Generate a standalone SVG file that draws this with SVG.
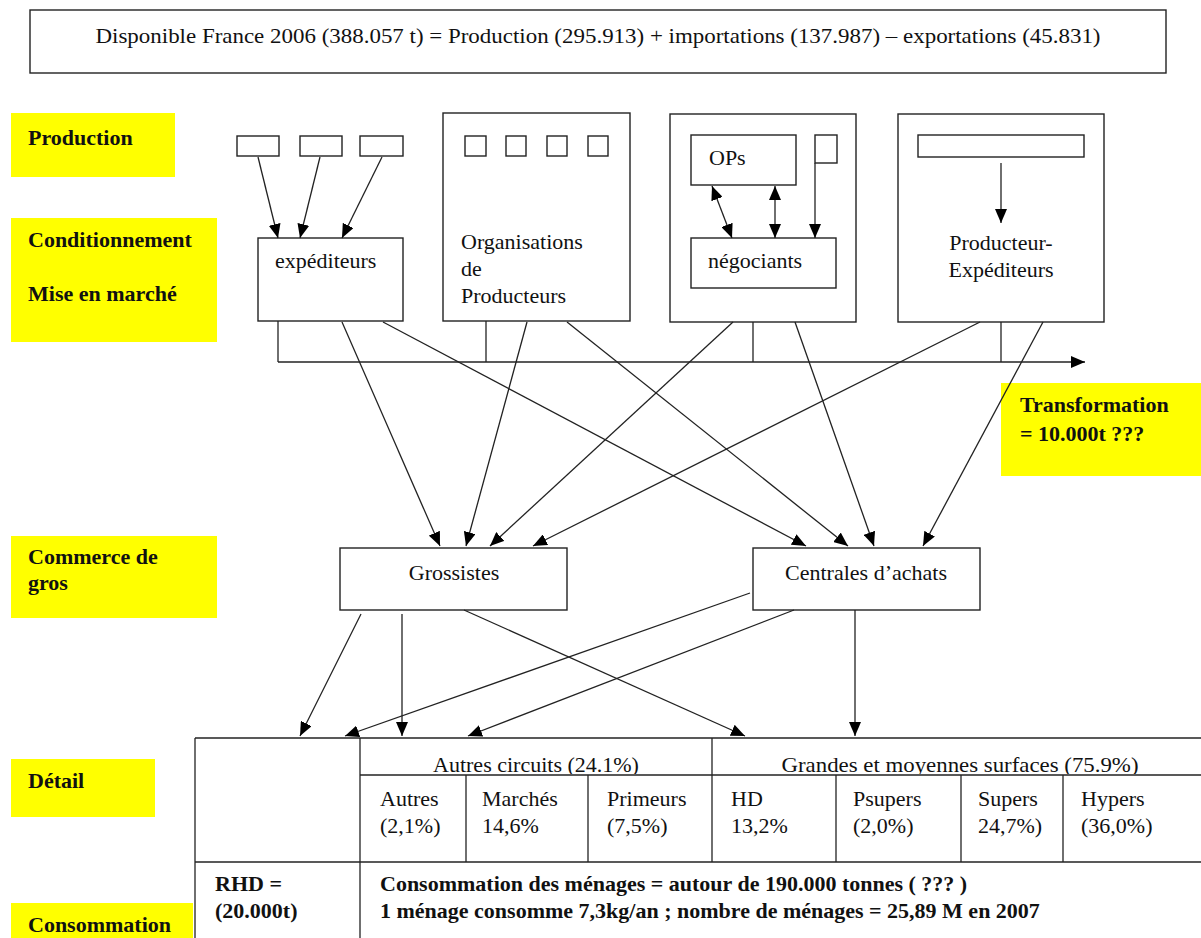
<svg xmlns="http://www.w3.org/2000/svg" width="1201" height="938" viewBox="0 0 1201 938">
<style>
text{font-family:"Liberation Serif","Times New Roman",serif;font-size:22px;fill:#111}
.b{font-weight:bold}
.box{fill:#fff;stroke:#222;stroke-width:1.4}
.lab{fill:#ffff00;stroke:none}
.ln{stroke:#222;stroke-width:1.3;fill:none}
.ar{stroke:#222;stroke-width:1.3;fill:none;marker-end:url(#ah)}
.dar{stroke:#222;stroke-width:1.3;fill:none;marker-end:url(#ah);marker-start:url(#ah)}
.m{text-anchor:middle}
</style>
<defs>
<marker id="ah" markerUnits="userSpaceOnUse" markerWidth="14" markerHeight="12" refX="14" refY="6" orient="auto-start-reverse">
<path d="M0,0 L14,6 L0,12 z" fill="#000"/>
</marker>
<clipPath id="hdr"><rect x="360" y="738" width="841" height="36"/></clipPath>
</defs>
<rect width="1201" height="938" fill="#fff"/>

<g id="title">
<rect class="box" x="30" y="10" width="1136" height="63"/>
<text x="598" y="43" class="m" textLength="1005" lengthAdjust="spacingAndGlyphs">Disponible France 2006 (388.057 t) = Production (295.913) + importations (137.987) – exportations (45.831)</text>
</g>

<g id="label-production"><rect class="lab" x="11" y="113" width="164" height="64"/><text class="b" x="28" y="145">Production</text></g>
<g id="label-conditionnement"><rect class="lab" x="11" y="218" width="206" height="124"/><text class="b" x="28" y="247">Conditionnement</text><text class="b" x="28" y="301">Mise en marché</text></g>
<g id="label-transformation"><rect class="lab" x="1001" y="383" width="200" height="93"/><text class="b" x="1020" y="412">Transformation</text><text class="b" x="1020" y="441">= 10.000t ???</text></g>
<g id="label-commerce"><rect class="lab" x="11" y="536" width="206" height="82"/><text class="b" x="28" y="564">Commerce de</text><text class="b" x="28" y="590">gros</text></g>
<g id="label-detail"><rect class="lab" x="11" y="759" width="144" height="58"/><text class="b" x="28" y="788">Détail</text></g>
<g id="label-consommation"><rect class="lab" x="11" y="903" width="182" height="35"/><text class="b" x="28" y="932">Consommation</text></g>

<g id="producteurs-individuels">
<rect class="box" x="237" y="136" width="42" height="20"/>
<rect class="box" x="300" y="136" width="42" height="20"/>
<rect class="box" x="360" y="136" width="43" height="20"/>
</g>
<g id="expediteurs"><rect class="box" x="258" y="238" width="145" height="83"/><text x="275" y="268">expéditeurs</text></g>
<g id="organisations-producteurs">
<rect class="box" x="443" y="113" width="187" height="208"/>
<rect class="box" x="465" y="136" width="21" height="20"/>
<rect class="box" x="506" y="136" width="20" height="20"/>
<rect class="box" x="547" y="136" width="20" height="20"/>
<rect class="box" x="588" y="136" width="20" height="20"/>
<text x="461" y="249">Organisations</text><text x="461" y="276">de</text><text x="461" y="303">Producteurs</text>
</g>
<g id="negociants-bloc">
<rect class="box" x="670" y="114" width="186" height="208"/>
<rect class="box" x="691" y="135" width="105" height="50"/>
<text x="709" y="165">OPs</text>
<rect class="box" x="815" y="135" width="22" height="28"/>
<rect class="box" x="691" y="238" width="145" height="50"/>
<text x="708" y="268">négociants</text>
</g>
<g id="producteur-expediteurs">
<rect class="box" x="898" y="114" width="206" height="208"/>
<rect class="box" x="918" y="135" width="166" height="22"/>
<text x="1001" y="250" class="m">Producteur-</text><text x="1001" y="277" class="m">Expéditeurs</text>
</g>
<g id="grossistes"><rect class="box" x="340" y="548" width="227" height="62"/><text x="454" y="580" class="m">Grossistes</text></g>
<g id="centrales"><rect class="box" x="753" y="548" width="227" height="62"/><text x="866" y="580" class="m">Centrales d’achats</text></g>

<g id="tableau">
<line class="ln" x1="195" y1="738" x2="1201" y2="738"/>
<line class="ln" x1="195" y1="738" x2="195" y2="938"/>
<line class="ln" x1="360" y1="738" x2="360" y2="938"/>
<line class="ln" x1="712" y1="738" x2="712" y2="862"/>
<line class="ln" x1="360" y1="775" x2="1201" y2="775"/>
<line class="ln" x1="195" y1="862" x2="1201" y2="862"/>
<line class="ln" x1="466" y1="775" x2="466" y2="862"/>
<line class="ln" x1="588" y1="775" x2="588" y2="862"/>
<line class="ln" x1="836" y1="775" x2="836" y2="862"/>
<line class="ln" x1="961" y1="775" x2="961" y2="862"/>
<line class="ln" x1="1063" y1="775" x2="1063" y2="862"/>
<g clip-path="url(#hdr)">
<text x="536" y="772" class="m">Autres circuits (24.1%)</text>
<text x="960" y="772" class="m" textLength="357" lengthAdjust="spacingAndGlyphs">Grandes et moyennes surfaces (75.9%)</text>
</g>
<text x="380" y="806">Autres</text><text x="380" y="833">(2,1%)</text>
<text x="482" y="806">Marchés</text><text x="482" y="833">14,6%</text>
<text x="607" y="806">Primeurs</text><text x="607" y="833">(7,5%)</text>
<text x="731" y="806">HD</text><text x="731" y="833">13,2%</text>
<text x="853" y="806">Psupers</text><text x="853" y="833">(2,0%)</text>
<text x="978" y="806">Supers</text><text x="978" y="833">24,7%)</text>
<text x="1081" y="806">Hypers</text><text x="1081" y="833">(36,0%)</text>
<text class="b" x="215" y="891">RHD =</text><text class="b" x="215" y="918">(20.000t)</text>
<text class="b" x="380" y="891">Consommation des ménages = autour de 190.000 tonnes ( ??? )</text>
<text class="b" x="380" y="918">1 ménage consomme 7,3kg/an ; nombre de ménages = 25,89 M en 2007</text>
</g>

<g id="connecteurs">
<line class="ar" x1="258" y1="157" x2="278" y2="238"/>
<line class="ar" x1="320" y1="157" x2="300" y2="238"/>
<line class="ar" x1="382" y1="157" x2="342" y2="238"/>
<line class="dar" x1="712" y1="186" x2="732" y2="238"/>
<line class="dar" x1="775" y1="186" x2="775" y2="238"/>
<line class="ar" x1="815" y1="163" x2="815" y2="238"/>
<line class="ar" x1="1001" y1="163" x2="1001" y2="223"/>
<line class="ln" x1="278" y1="321" x2="278" y2="362"/>
<line class="ln" x1="486" y1="321" x2="486" y2="362"/>
<line class="ln" x1="753" y1="322" x2="753" y2="362"/>
<line class="ln" x1="1001" y1="322" x2="1001" y2="362"/>
<line class="ar" x1="278" y1="362" x2="1085" y2="362"/>
<line class="ar" x1="342" y1="322" x2="440" y2="546"/>
<line class="ar" x1="527" y1="322" x2="466" y2="546"/>
<line class="ar" x1="733" y1="322" x2="490" y2="546"/>
<line class="ar" x1="980" y1="322" x2="533" y2="546"/>
<line class="ar" x1="383" y1="322" x2="806" y2="546"/>
<line class="ar" x1="567" y1="322" x2="848" y2="546"/>
<line class="ar" x1="795" y1="322" x2="874" y2="546"/>
<line class="ar" x1="1043" y1="322" x2="923" y2="546"/>
<line class="ar" x1="361" y1="614" x2="300" y2="736"/>
<line class="ar" x1="402" y1="614" x2="402" y2="736"/>
<line class="ar" x1="464" y1="610" x2="745" y2="736"/>
<line class="ar" x1="750" y1="593" x2="345" y2="736"/>
<line class="ar" x1="794" y1="610" x2="468" y2="736"/>
<line class="ar" x1="855" y1="610" x2="855" y2="736"/>
</g>
</svg>
